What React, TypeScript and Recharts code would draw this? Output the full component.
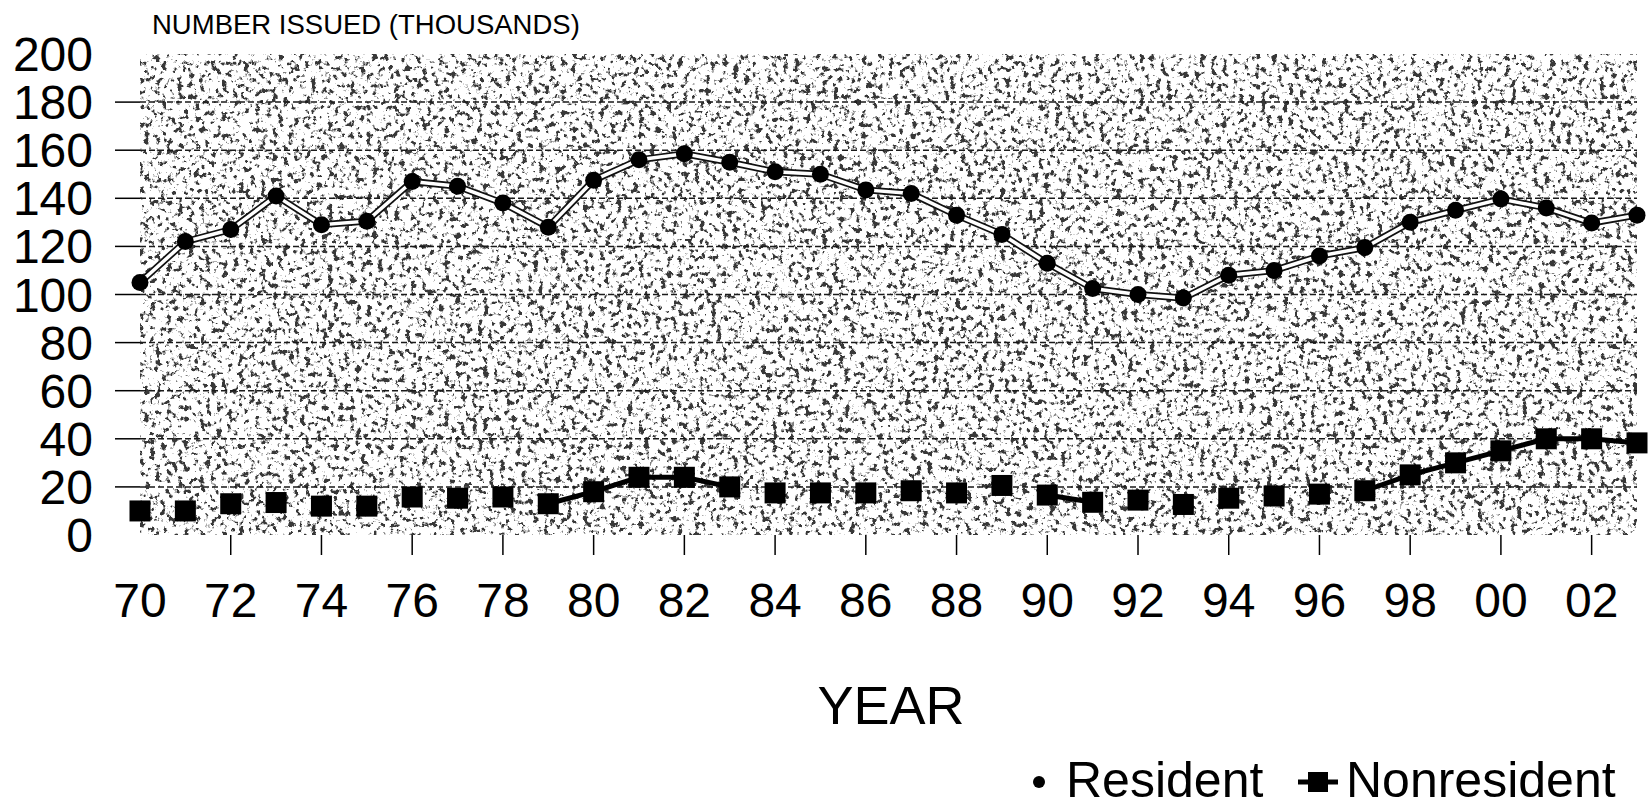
import { CartesianGrid, Line, LineChart, XAxis, YAxis } from "recharts";

// years 1970..2003, shown as two-digit labels
const years = [
  "70", "71", "72", "73", "74", "75", "76", "77", "78", "79",
  "80", "81", "82", "83", "84", "85", "86", "87", "88", "89",
  "90", "91", "92", "93", "94", "95", "96", "97", "98", "99",
  "00", "01", "02", "03",
];

const resident = [
  105, 122, 127, 141, 129, 130.5, 147, 145, 138, 128,
  147.5, 156, 158.5, 155, 151, 150, 143.5, 142, 133, 125,
  113, 102.5, 100, 98.5, 108, 110, 116, 119.5, 130, 135,
  139.7, 136, 129.7, 133,
];

const nonresident = [
  10, 10, 13, 13.5, 12, 12, 15.8, 15.3, 15.8, 13,
  18, 24, 24, 20, 17.5, 17.5, 17.5, 18.4, 17.5, 20.6,
  16.6, 13.6, 14.5, 12.7, 15.3, 16.2, 17, 18.4, 25, 30,
  35, 40, 40, 38.3,
];

// years where the nonresident connecting line is still visible in the print
const nonresLinkYears = ["79", "80", "81", "82", "83", "90", "91", "97", "98", "99", "00", "01", "02", "03"];

const yTicks = [0, 20, 40, 60, 80, 100, 120, 140, 160, 180, 200];
const gridValues = [20, 40, 60, 80, 100, 120, 140, 160, 180];

const data = years.map((year, i) => ({
  year,
  resident: resident[i],
  nonresident: nonresident[i],
  nonresLink: nonresLinkYears.includes(year) ? nonresident[i] : null,
}));

const FONT = '"Liberation Sans", Arial, Helvetica, sans-serif';

function YTick(props: any) {
  const { x, y, payload } = props;
  const v = payload.value;
  return (
    <g>
      <text x={x} y={y} dy="0.355em" textAnchor="end" fontSize={48} fill="#000" fontFamily={FONT}>
        {v}
      </text>
      {v > 0 && v < 200 && (
        <line x1={x + 22} x2={x + 47} y1={y} y2={y} stroke="#000" strokeWidth={1.5} />
      )}
    </g>
  );
}

function XTick(props: any) {
  const { x, y, payload } = props;
  return (
    <g>
      {payload.value !== "70" && (
        <line x1={x} x2={x} y1={y - 48} y2={y - 28} stroke="#000" strokeWidth={1.5} />
      )}
      <text x={x} y={y} dy="0.71em" textAnchor="middle" fontSize={48} fill="#000" fontFamily={FONT}>
        {payload.value}
      </text>
    </g>
  );
}

function SquareDot(props: any) {
  const { cx, cy, index } = props;
  if (cx == null || cy == null) return <g key={index} />;
  return <rect key={index} x={cx - 10.5} y={cy - 10.5} width={21} height={21} fill="#000" />;
}

export default function App() {
  return (
    <div
      style={{
        position: "absolute",
        left: 0,
        top: 0,
        width: 1651,
        height: 806,
        background: "#fff",
        fontFamily: FONT,
        color: "#000",
      }}
    >
      <LineChart width={1651} height={806} data={data} margin={{ top: 54, right: 14, bottom: 171, left: 0 }}>
        <defs>
          <filter id="grain" x="0" y="0" width="1" height="1" colorInterpolationFilters="sRGB">
            <feTurbulence type="fractalNoise" baseFrequency="0.18" numOctaves={4} seed={9} />
            <feColorMatrix type="matrix" values="0 0 0 6 -1.95  0 0 0 6 -1.95  0 0 0 6 -1.95  0 0 0 0 1" />
            <feComponentTransfer>
              <feFuncR type="discrete" tableValues="0.22 0.5 0.68 0.84 1 1" />
              <feFuncG type="discrete" tableValues="0.22 0.5 0.68 0.84 1 1" />
              <feFuncB type="discrete" tableValues="0.22 0.5 0.68 0.84 1 1" />
            </feComponentTransfer>
          </filter>
          <pattern id="grainPat" patternUnits="userSpaceOnUse" x={0} y={0} width={1651} height={806}>
            <rect width={1651} height={806} fill="#fff" filter="url(#grain)" />
          </pattern>
        </defs>
        <CartesianGrid
          fill="url(#grainPat)"
          vertical={false}
          horizontalValues={gridValues}
          stroke="#1a1a1a"
          strokeWidth={1.5}
          strokeDasharray="6 3"
        />
        <XAxis
          dataKey="year"
          interval={1}
          height={100}
          tickSize={20}
          tickMargin={28}
          tickLine={false}
          axisLine={false}
          tick={(p: any) => <XTick {...p} />}
        />
        <YAxis
          domain={[0, 200]}
          ticks={yTicks}
          interval={0}
          width={140}
          tickSize={25}
          tickMargin={22}
          tickLine={false}
          axisLine={false}
          tick={(p: any) => <YTick {...p} />}
        />
        <Line
          dataKey="nonresLink"
          stroke="#000"
          strokeWidth={5}
          dot={false}
          connectNulls={false}
          isAnimationActive={false}
          legendType="none"
        />
        <Line
          dataKey="nonresident"
          stroke="none"
          dot={(p: any) => <SquareDot {...p} />}
          activeDot={false}
          isAnimationActive={false}
          legendType="none"
        />
        <Line dataKey="resident" stroke="#111" strokeWidth={7} dot={false} activeDot={false} isAnimationActive={false} legendType="none" />
        <Line dataKey="resident" stroke="#fff" strokeWidth={3.5} dot={false} activeDot={false} isAnimationActive={false} legendType="none" />
        <Line
          dataKey="resident"
          stroke="none"
          dot={{ r: 8.5, fill: "#000", stroke: "none" }}
          activeDot={false}
          isAnimationActive={false}
          legendType="none"
        />
      </LineChart>

      <div style={{ position: "absolute", left: 152, top: 11, fontSize: 27.5, lineHeight: 1, whiteSpace: "nowrap" }}>
        NUMBER ISSUED (THOUSANDS)
      </div>
      <div
        style={{
          position: "absolute",
          left: 891,
          top: 678,
          fontSize: 54,
          lineHeight: 1,
          transform: "translateX(-50%)",
          whiteSpace: "nowrap",
        }}
      >
        YEAR
      </div>

      <svg style={{ position: "absolute", left: 1020, top: 755 }} width={330} height={48}>
        <circle cx={19} cy={27} r={6} fill="#000" />
        <line x1={278} x2={318} y1={27} y2={27} stroke="#000" strokeWidth={5} />
        <rect x={288} y={17} width={20} height={20} fill="#000" />
      </svg>
      <div style={{ position: "absolute", left: 1066, top: 755, fontSize: 50, lineHeight: 1, whiteSpace: "nowrap" }}>
        Resident
      </div>
      <div style={{ position: "absolute", left: 1346, top: 755, fontSize: 50, lineHeight: 1, whiteSpace: "nowrap" }}>
        Nonresident
      </div>
    </div>
  );
}
